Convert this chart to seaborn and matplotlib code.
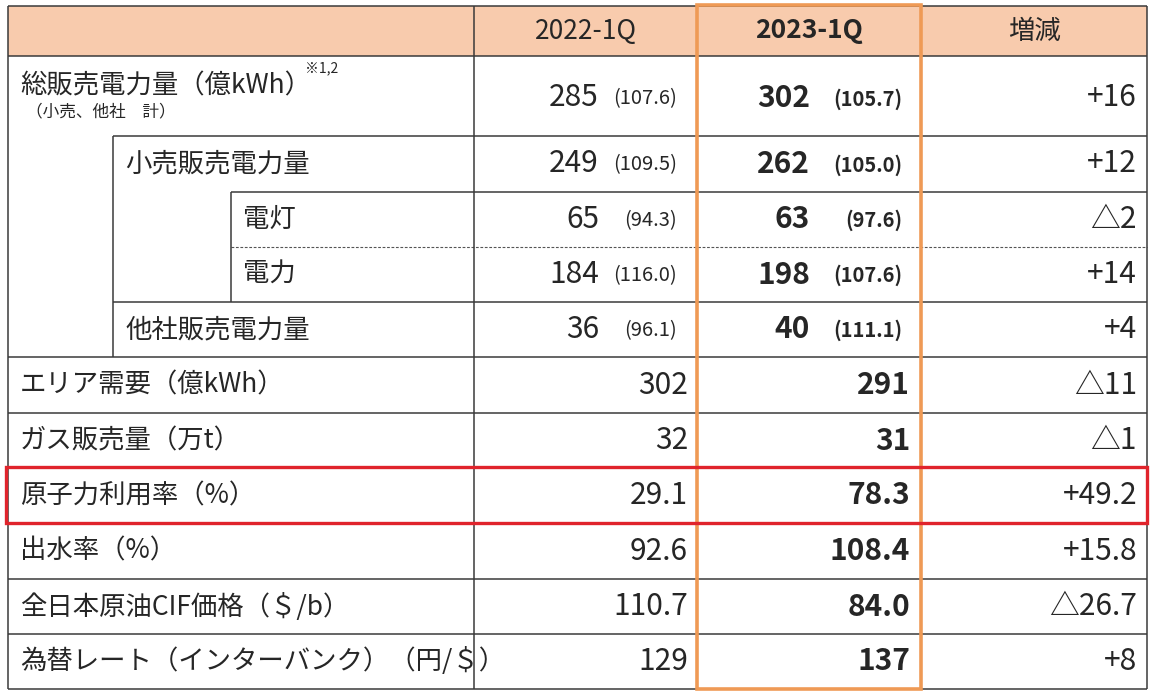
import matplotlib
matplotlib.use('Agg')
import matplotlib.pyplot as plt
import seaborn as sns

sns.set_theme(style='white')
plt.rcParams['font.family'] = ['Noto Sans CJK JP', 'DejaVu Sans']

# ---- table contents ----
headers = ['2022-1Q', '2023-1Q', '増減']
labels = ['総販売電力量（億kWh）', '小売販売電力量', '電灯', '電力', '他社販売電力量',
          'エリア需要（億kWh）', 'ガス販売量（万t）', '原子力利用率（%）', '出水率（%）',
          '全日本原油CIF価格（＄/b）', '為替レート（インターバンク）（円/＄）']
levels = [0, 1, 2, 2, 1, 0, 0, 0, 0, 0, 0]
v2022 = ['285', '249', '65', '184', '36', '302', '32', '29.1', '92.6', '110.7', '129']
p2022 = ['107.6', '109.5', '94.3', '116.0', '96.1', None, None, None, None, None, None]
v2023 = ['302', '262', '63', '198', '40', '291', '31', '78.3', '108.4', '84.0', '137']
p2023 = ['105.7', '105.0', '97.6', '107.6', '111.1', None, None, None, None, None, None]
diff = ['+16', '+12', '△2', '+14', '+4', '△11', '△1', '+49.2', '+15.8', '△26.7', '+8']

# ---- layout (pixels) ----
W, H = 1161, 693
row_edges = [56, 136, 192, 247, 302, 357, 413, 468, 523, 579, 634, 689]
x_left, x_c1, x_c2, x_c3, x_right = 8, 474, 697, 921, 1147
indent = {0: 20, 1: 125, 2: 243}
line_c = '#3a3a3a'
lw = 1.1

fig = plt.figure(figsize=(W / 100, H / 100), dpi=100)
ax = fig.add_axes([0, 0, 1, 1])
ax.set_xlim(0, W)
ax.set_ylim(H, 0)
ax.axis('off')

# header band
ax.fill_between([x_left, x_right], 6, 56, color='#F8CBAD', zorder=0, lw=0)

# horizontal rules
ax.hlines([6, 56], x_left, x_right, color=line_c, lw=lw)
ax.hlines([136, 302], 113, x_right, color=line_c, lw=lw)
ax.hlines(192, 231, x_right, color=line_c, lw=lw)
ax.hlines(247, 231, x_right, color='#555555', lw=0.8, linestyles=(0, (2.5, 1.5)))
ax.hlines(row_edges[5:], x_left, x_right, color=line_c, lw=lw)

# vertical rules
ax.vlines([x_left, x_c1, x_c2, x_c3, x_right], 6, 689, color=line_c, lw=lw)
ax.vlines(113, 136, 357, color=line_c, lw=lw)
ax.vlines(231, 192, 302, color=line_c, lw=lw)

# header text
fs = 19      # labels / header
fn = 21.5    # numbers
fp = 14.5    # bracketed ratios
ax.text((x_c1 + x_c2) / 2, 31, headers[0], ha='center', va='center', fontsize=fs)
ax.text((x_c2 + x_c3) / 2, 31, headers[1], ha='center', va='center', fontsize=fs, fontweight='bold')
ax.text((x_c3 + x_right) / 2, 31, headers[2], ha='center', va='center', fontsize=fs)

# body
for i, lab in enumerate(labels):
    top, bot = row_edges[i], row_edges[i + 1]
    yc = (top + bot) / 2
    x0 = indent[levels[i]]
    if i == 0:
        ax.text(x0, 86, lab, ha='left', va='center', fontsize=fs)
        ax.text(305, 68, '※1,2', ha='left', va='center', fontsize=10)
        ax.text(26, 112, '（小売、他社　計）', ha='left', va='center', fontsize=12)
        yv = 98
    else:
        ax.text(x0, yc, lab, ha='left', va='center', fontsize=fs)
        yv = yc

    if p2022[i] is not None:
        ax.text(599, yv, v2022[i], ha='right', va='center', fontsize=fn)
        ax.text(677, yv + 1, '(' + p2022[i] + ')', ha='right', va='center', fontsize=fp)
        ax.text(810, yv, v2023[i], ha='right', va='center', fontsize=fn, fontweight='bold')
        ax.text(902, yv + 1, '(' + p2023[i] + ')', ha='right', va='center', fontsize=fp, fontweight='bold')
    else:
        ax.text(688, yv, v2022[i], ha='right', va='center', fontsize=fn)
        ax.text(910, yv, v2023[i], ha='right', va='center', fontsize=fn, fontweight='bold')
    ax.text(1137, yv, diff[i], ha='right', va='center', fontsize=fn)

# highlight boxes
ax.add_patch(plt.Rectangle((x_c2, 5), x_c3 - x_c2, 684, fill=False,
                           edgecolor='#EF9A55', lw=2.6, zorder=5))
ax.add_patch(plt.Rectangle((6, 467), 1141, 56, fill=False,
                           edgecolor='#E0242C', lw=2.4, zorder=6))

fig.savefig('out.png', dpi=100, facecolor='white')
